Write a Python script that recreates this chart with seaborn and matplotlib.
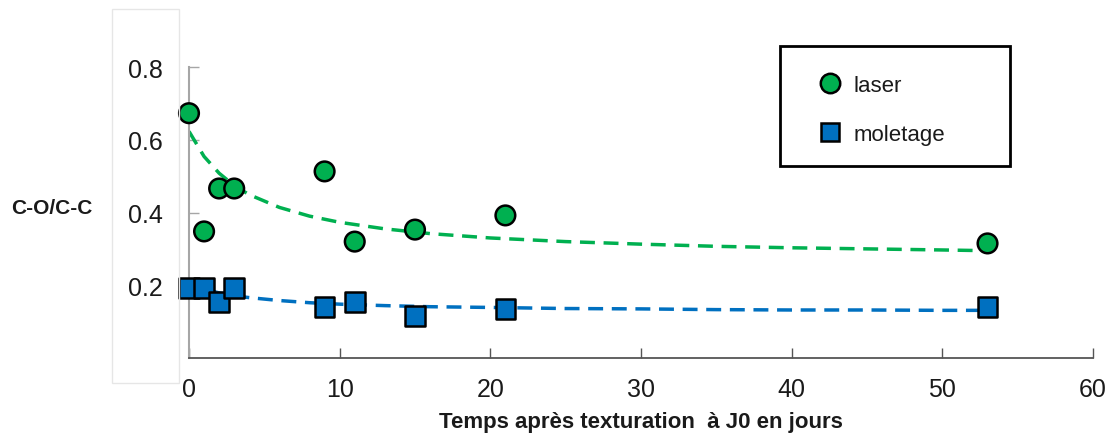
import numpy as np
import pandas as pd
import matplotlib
matplotlib.use("Agg")
import matplotlib.pyplot as plt
from matplotlib.lines import Line2D
from matplotlib.patches import Rectangle
import seaborn as sns

# ---- data ----
days = [0, 1, 2, 3, 9, 11, 15, 21, 53]
laser = [0.673, 0.348, 0.466, 0.466, 0.513, 0.320, 0.353, 0.392, 0.315]
moletage = [0.193, 0.193, 0.154, 0.193, 0.141, 0.154, 0.116, 0.135, 0.141]

# dashed trend curves
trend_x = [0, 1, 2, 3, 4, 6, 8, 10, 13, 16, 20, 25, 30, 35, 40, 45, 50, 53]
trend_laser = [0.623, 0.554, 0.508, 0.474, 0.449, 0.414, 0.390, 0.373, 0.355,
               0.342, 0.330, 0.320, 0.313, 0.307, 0.303, 0.300, 0.297, 0.295]
trend_moletage = [0.205, 0.189, 0.179, 0.171, 0.166, 0.158, 0.152, 0.148, 0.144,
                  0.141, 0.139, 0.136, 0.135, 0.133, 0.132, 0.132, 0.131, 0.131]

x_ticks = [0, 10, 20, 30, 40, 50, 60]
y_ticks = [0.2, 0.4, 0.6, 0.8]
series_names = ["laser", "moletage"]

GREEN = "#00B050"
BLUE = "#0070C0"
W, H = 1118, 439

sns.set_theme(style="white")
plt.rcParams["font.family"] = ["Liberation Sans", "DejaVu Sans"]

fig = plt.figure(figsize=(W / 100, H / 100), dpi=100)
ax = fig.add_axes([189 / W, 1 - 359 / H, (1093 - 189) / W, (359 - 68) / H])

# faint frame at left (from the screenshot)
fig.patches.append(Rectangle((112 / W, 1 - 384 / H), (179 - 112) / W, (384 - 10) / H,
                             transform=fig.transFigure, fill=False, edgecolor="#e6e6e6",
                             linewidth=1.0, zorder=0))

pts = pd.DataFrame({
    "x": days * 2,
    "y": laser + moletage,
    "series": [series_names[0]] * len(days) + [series_names[1]] * len(days),
})
trends = pd.DataFrame({
    "x": trend_x * 2,
    "y": trend_laser + trend_moletage,
    "series": [series_names[0]] * len(trend_x) + [series_names[1]] * len(trend_x),
})
palette = {series_names[0]: GREEN, series_names[1]: BLUE}

sns.lineplot(data=trends, x="x", y="y", hue="series", palette=palette, ax=ax,
             legend=False, linewidth=2.5, dashes=False, zorder=2)
for ln in ax.get_lines():
    ln.set_dashes([4.3, 2.5])

sns.scatterplot(data=pts, x="x", y="y", hue="series", style="series",
                markers={series_names[0]: "o", series_names[1]: "s"},
                palette=palette, s=200, edgecolor="black", linewidth=1.8,
                ax=ax, legend=False, zorder=3, clip_on=False)

ax.set_xlim(0, 60)
ax.set_ylim(0, 0.8)
ax.set_xticks(x_ticks)
ax.set_yticks(y_ticks)
ax.set_xticklabels([str(v) for v in x_ticks])
ax.set_yticklabels([f"{v:.1f}" for v in y_ticks])

for side in ["top", "right"]:
    ax.spines[side].set_visible(False)
ax.spines["left"].set_color("#a6a6a6")
ax.spines["left"].set_linewidth(1.5)
ax.spines["bottom"].set_color("#555555")
ax.spines["bottom"].set_linewidth(1.3)

ax.tick_params(axis="x", direction="in", length=7, width=1.0, color="#555555",
               labelsize=18, pad=14, labelcolor="#1a1a1a", bottom=True)
ax.tick_params(axis="y", direction="in", length=7, width=1.0, color="#a6a6a6",
               labelsize=18, pad=19, labelcolor="#1a1a1a", left=True)

ax.set_xlabel("Temps après texturation  à J0 en jours", fontsize=16, fontweight="bold",
              color="#1a1a1a")
ax.xaxis.set_label_coords(0.5, -(423 - 359) / 291)
ax.xaxis.label.set_va("center")
ax.set_ylabel("")
fig.text(52 / W, 1 - 209 / H, "C-O/C-C", fontsize=15, fontweight="bold",
         ha="center", va="center", color="#1a1a1a")

# legend frame (wider than its contents, as in the reference)
fig.patches.append(Rectangle((780 / W, 1 - 167 / H), (1010 - 780) / W, (167 - 47) / H,
                             transform=fig.transFigure, fill=True, facecolor="white",
                             edgecolor="black", linewidth=2.0, zorder=5))

handles = [
    Line2D([], [], linestyle="none", marker="o", markersize=14, markerfacecolor=GREEN,
           markeredgecolor="black", markeredgewidth=1.8),
    Line2D([], [], linestyle="none", marker="s", markersize=13, markerfacecolor=BLUE,
           markeredgecolor="black", markeredgewidth=1.8),
]
leg = fig.legend(handles, series_names, loc="upper left",
                 bbox_to_anchor=(810 / W, 1 - 67 / H), fontsize=16,
                 frameon=False, borderpad=0.4, labelspacing=1.25,
                 handletextpad=0.54, borderaxespad=0, handlelength=1.0)
leg.set_zorder(6)
for t in leg.get_texts():
    t.set_color("#1a1a1a")

fig.savefig("out.png", dpi=100)
